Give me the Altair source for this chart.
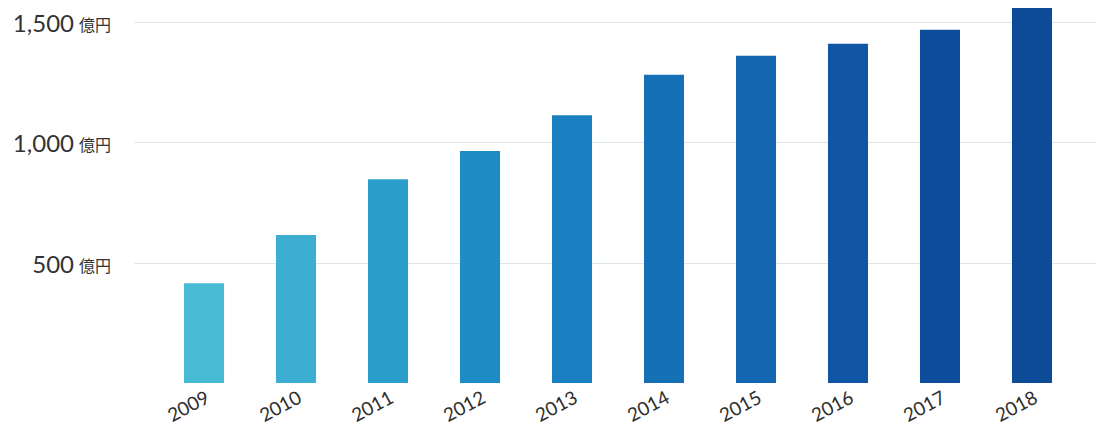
import altair as alt
import pandas as pd

years = ["2009", "2010", "2011", "2012", "2013", "2014", "2015", "2016", "2017", "2018"]
sales = [414, 614, 846, 963, 1112, 1280, 1359, 1409, 1467, 1620]
bar_colors = ["#48bbd4", "#3caed2", "#2a9dca", "#1e8cc6", "#1a80c1", "#1670b6", "#1466b0", "#1056a5", "#0e4d9c", "#0d4a98"]
tick_values = [500, 1000, 1500]
tick_labels = ["500", "1,000", "1,500"]
unit_label = "億円"

df = pd.DataFrame({"year": years, "sales": sales})
ticks = pd.DataFrame({"v": tick_values, "lab": tick_labels, "unit": [unit_label] * 3})

y_scale = alt.Scale(domain=[0, 1557], nice=False, zero=True)

bars = alt.Chart(df).mark_bar(clip=True).encode(
    x=alt.X("year:N", sort=years, title=None,
            scale=alt.Scale(paddingInner=0.565, paddingOuter=0.511, align=0.532),
            axis=alt.Axis(labelAngle=332, labelFont="Lato", labelFontSize=19,
                          labelColor="#2e2e2e", domain=False, ticks=False,
                          labelPadding=5, labelAlign="right", labelBaseline="top")),
    y=alt.Y("sales:Q", scale=y_scale, title=None,
            axis=alt.Axis(values=tick_values, labels=False, domain=False, ticks=False,
                          grid=True, gridColor="#dde7ea", gridWidth=1)),
    color=alt.Color("year:N", sort=years, legend=None,
                    scale=alt.Scale(domain=years, range=bar_colors)),
)

nums = alt.Chart(ticks).mark_text(
    align="right", baseline="alphabetic", font="Lato", fontSize=24,
    color="#333333", dy=10
).encode(
    x=alt.value(-60),
    y=alt.Y("v:Q", scale=y_scale),
    text="lab:N",
)

units = alt.Chart(ticks).mark_text(
    align="left", baseline="alphabetic", font="Noto Sans CJK JP", fontSize=16,
    color="#333333", dy=9
).encode(
    x=alt.value(-55),
    y=alt.Y("v:Q", scale=y_scale),
    text="unit:N",
)

chart = alt.layer(bars, nums, units).properties(
    width=962, height=375,
    autosize=alt.AutoSizeParams(type="none"),
    padding={"left": 126, "top": 0, "right": 0, "bottom": 46},
).configure_view(stroke=None)

chart.save("out.html", embed_options={"renderer": "svg", "actions": False})
